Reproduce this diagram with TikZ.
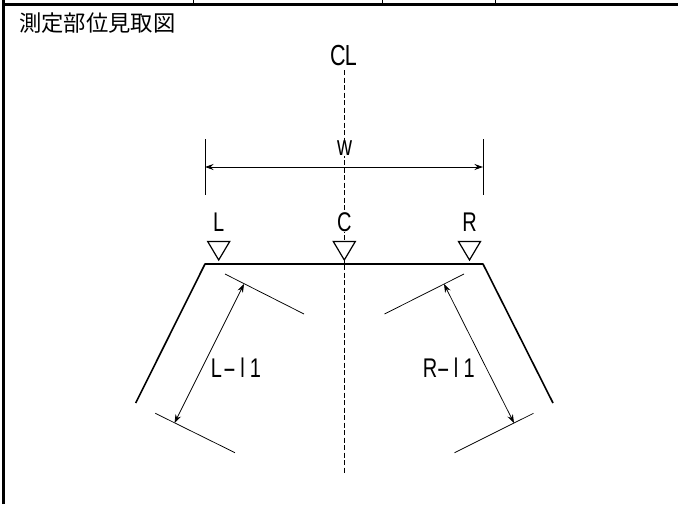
\documentclass[tikz,border=0pt]{standalone}
\usepackage{fontspec}
\setmainfont{Liberation Sans}
\newfontfamily\jpfont{Noto Sans CJK JP}
\newfontfamily\narrowfont[FakeStretch=0.74]{Liberation Sans}
\usetikzlibrary{arrows.meta}
\newcommand\chr[1]{\makebox[13pt]{#1}}
\newcommand\longhyphen{\scalebox{2}[1]{-}}
\tikzset{
  thickline/.style={line width=1.6pt},
  thinline/.style={line width=0.75pt},
  frameline/.style={line width=3pt},
  dimarrow/.style={line width=0.75pt,{Stealth[length=8.5pt,width=6pt]}-{Stealth[length=8.5pt,width=6pt]}},
  textlabel/.style={inner sep=0,fill=white,font=\narrowfont\fontsize{27}{27}\selectfont},
  marker/.style={draw,fill=white,line width=1.2pt,line join=miter}
}
\begin{document}
\begin{tikzpicture}[x=1pt,y=-1pt,line join=round]
	\useasboundingbox (0,0) rectangle (678,504);
	% frame
	\coordinate (fa) at (3.8,504);
	\coordinate (fb) at (3.8,0);
	\coordinate (fc) at (3.8,4.7);
	\coordinate (fd) at (678,4.7);
	\draw[frameline] (fa)--(fb) (fc)--(fd);
	\foreach \x/\n in {193.3/ta,382.3/tb,495.7/tc}{
		\coordinate (\n) at (\x,0);
		\draw[line width=0.8pt] (\n)--++(0,4);
	}
	\node[anchor=west,inner sep=0,font=\jpfont\fontsize{22.3}{22.3}\selectfont] (title) at (19,23.5) {測定部位見取図};
	% center line
	\coordinate (ctop) at (344.3,70);
	\coordinate (cbot) at (344.3,473);
	\draw[thinline,dash pattern=on 5pt off 2.5pt] (ctop)--(cbot);
	\node[textlabel,font=\narrowfont\fontsize{29}{29}\selectfont] (cl) at (344.3,55.5) {\chr{C}\chr{L}};
	% width
	\coordinate (wl1) at (205,139);
	\coordinate (wl2) at (205,195);
	\coordinate (wr1) at (483,139);
	\coordinate (wr2) at (483,195);
	\coordinate (wa) at (205,167);
	\coordinate (wb) at (483,167);
	\draw[thinline] (wl1)--(wl2) (wr1)--(wr2);
	\draw[dimarrow,line width=1pt] (wa)--(wb);
	\node[textlabel,fill=white,font=\narrowfont\fontsize{28}{28}\selectfont] (w) at (344.7,148.5) {w};
	% markers
	\foreach \x/\n/\t in {218.7/L/L,344.3/C/C,469.5/R/R}{
		\node[textlabel] (t\n) at (\x,222) {\t};
		\coordinate (m\n) at (\x,260);
		\draw[marker] (m\n)--++(-11,-18.5)--++(22,0)--cycle;
	}
	% outline
	\coordinate (pa) at (135.7,403);
	\coordinate (pb) at (205,264);
	\coordinate (pc) at (483,264);
	\coordinate (pd) at (553,403);
	\draw[thickline] (pa)--(pb)--(pc)--(pd);
	% left
	\coordinate (la1) at (225,274);
	\coordinate (la2) at (304,314);
	\coordinate (lb1) at (155.3,413.3);
	\coordinate (lb2) at (235,452.7);
	\coordinate (la) at (244,284);
	\coordinate (lb) at (174.5,423);
	\draw[thinline] (la1)--(la2) (lb1)--(lb2);
	\draw[dimarrow] (la)--(lb);
	\node[textlabel,fill=none] (ltext) at (236,367.5) {\chr{L}\chr{\longhyphen}\chr{l}\chr{1}};
	% right
	\coordinate (ra1) at (464,274);
	\coordinate (ra2) at (384.5,314);
	\coordinate (rb1) at (533.5,413.3);
	\coordinate (rb2) at (454.5,452.7);
	\coordinate (ra) at (444,284);
	\coordinate (rb) at (514,423);
	\draw[thinline] (ra1)--(ra2) (rb1)--(rb2);
	\draw[dimarrow] (ra)--(rb);
	\node[textlabel,fill=none] (rtext) at (449.7,367.5) {\chr{R}\chr{\longhyphen}\chr{l}\chr{1}};
\end{tikzpicture}
\end{document}
